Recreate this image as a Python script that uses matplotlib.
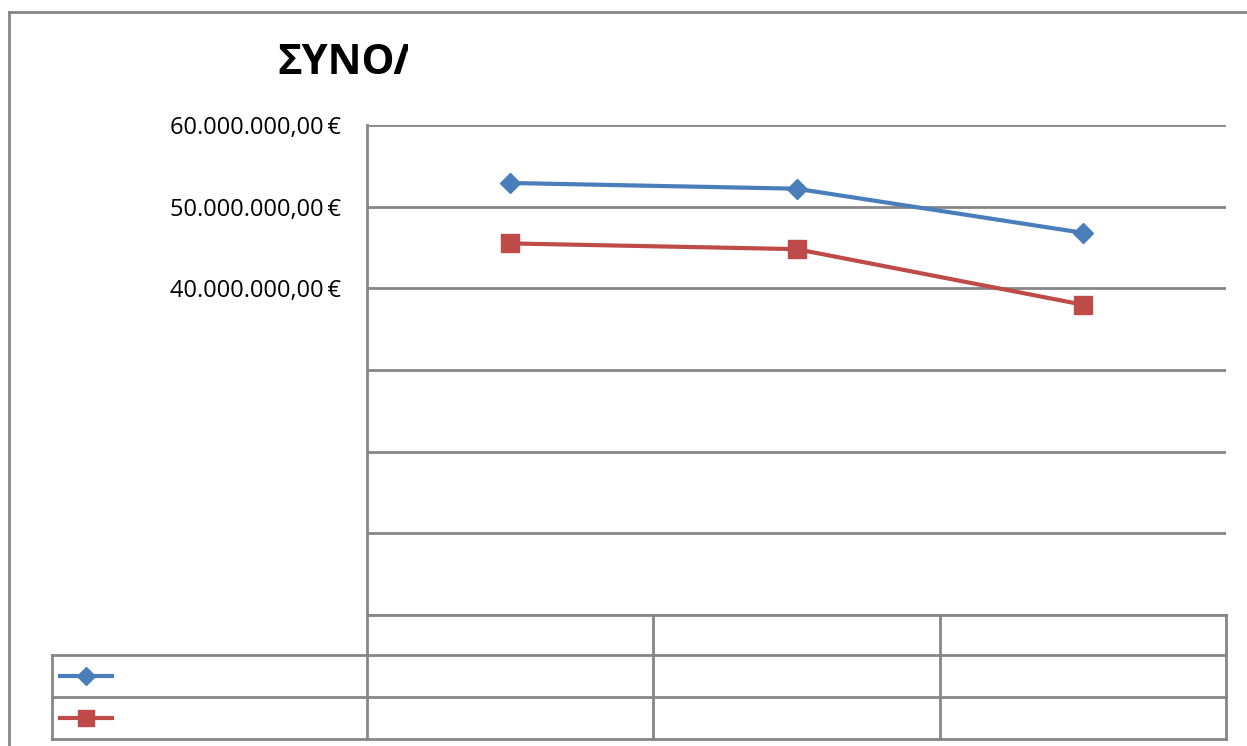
import matplotlib.pyplot as plt
from matplotlib.patches import Rectangle
from matplotlib.ticker import FixedLocator, FuncFormatter

# Data (category names and series names are not shown)
categories = ["", "", ""]
series_1 = [52.9e6, 52.2e6, 46.8e6]
series_2 = [45.5e6, 44.8e6, 38.0e6]
grid_ticks = [0, 10e6, 20e6, 30e6, 40e6, 50e6, 60e6]
labelled_ticks = [40e6, 50e6, 60e6]

W, H = 1247, 746
fig = plt.figure(figsize=(W / 100, H / 100), dpi=100)
plt.rcParams['font.family'] = ['Open Sans', 'DejaVu Sans']

def fx(px):
    return px / W

def fy(py):
    return 1 - py / H

grey = "#868686"

# plot area in pixels
x0, x1, ytop, ybot = 367, 1226, 125, 615
ax = fig.add_axes([fx(x0), fy(ybot), fx(x1) - fx(x0), fy(ytop) - fy(ybot)])

xs = range(len(categories))
ax.plot(xs, series_1, color="#4A7EBB", lw=3, marker="D", ms=10, zorder=3)
ax.plot(xs, series_2, color="#BE4B48", lw=3, marker="s", ms=13, zorder=3)

ax.set_xlim(-0.5, len(categories) - 0.5)
ax.set_ylim(0, 60e6)
ax.yaxis.set_major_locator(FixedLocator(grid_ticks))
ax.yaxis.set_major_formatter(FuncFormatter(
    lambda v, p: (f"{v:,.2f}".replace(",", "X").replace(".", ",").replace("X", ".") + "\u2009€")
    if v in labelled_ticks else ""))
ax.tick_params(axis="y", length=0, labelsize=17, pad=19, colors="black")
ax.set_xticks([])
ax.grid(axis="y", color=grey, lw=2)
for s in ["top", "right", "bottom"]:
    ax.spines[s].set_visible(False)
ax.spines["left"].set_color(grey)
ax.spines["left"].set_linewidth(2)

# data table lines below the plot (figure pixel coords)
def hline(y, xa, xb):
    fig.add_artist(plt.Line2D([fx(xa), fx(xb)], [fy(y), fy(y)], color=grey, lw=2))

def vline(x, ya, yb):
    fig.add_artist(plt.Line2D([fx(x), fx(x)], [fy(ya), fy(yb)], color=grey, lw=2))

hline(615, 367, 1226)
hline(655, 52, 1226)
hline(697, 52, 1226)
hline(739, 52, 1226)
for xv in [367, 653, 940, 1226]:
    vline(xv, 615, 739)
vline(52, 655, 739)

# legend keys inside the table
fig.add_artist(plt.Line2D([fx(60), fx(112)], [fy(676), fy(676)], color="#4A7EBB", lw=3))
fig.add_artist(plt.Line2D([fx(86)], [fy(676)], color="#4A7EBB", marker="D", ms=9))
fig.add_artist(plt.Line2D([fx(60), fx(112)], [fy(718), fy(718)], color="#BE4B48", lw=3))
fig.add_artist(plt.Line2D([fx(86)], [fy(718)], color="#BE4B48", marker="s", ms=12))

# outer chart border
vline(9, 12, 746)
hline(12, 9, 1247)

# clipped title
clip = Rectangle((0, 0), fx(408), 1, transform=fig.transFigure)
t = fig.text(fx(277), fy(63), "ΣΥΝΟΛΙΚΟ", fontsize=30, fontweight="bold",
             ha="left", va="center")
t.set_clip_path(clip)

fig.savefig("out.png", dpi=100)
